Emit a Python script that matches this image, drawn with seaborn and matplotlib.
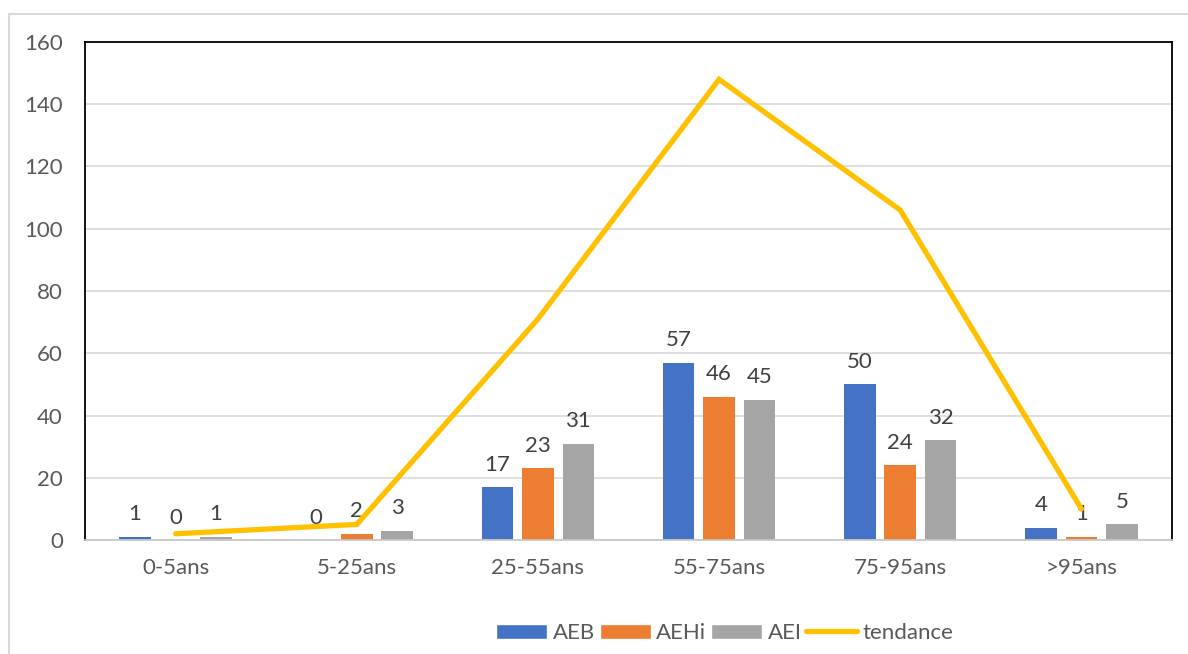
import numpy as np
import pandas as pd
import seaborn as sns
import matplotlib.pyplot as plt
from matplotlib.patches import Rectangle
from matplotlib.lines import Line2D

# values
categories = ["0-5ans", "5-25ans", "25-55ans", "55-75ans", "75-95ans", ">95ans"]
aeb = [1, 0, 17, 57, 50, 4]
aehi = [0, 2, 23, 46, 24, 1]
aei = [1, 3, 31, 45, 32, 5]
tendance = [2, 5, 71, 148, 106, 10]
series = ["AEB", "AEHi", "AEI"]
colors = ["#4472C4", "#ED7D31", "#A5A5A5"]
line_color = "#FFC000"
fs = 16

sns.set_style("white")
plt.rcParams["font.family"] = ["Lato", "DejaVu Sans"]

# long-form table for seaborn
df = pd.DataFrame({
    "age": categories * 3,
    "serie": [s for s in series for _ in categories],
    "n": aeb + aehi + aei,
})

fig = plt.figure(figsize=(11.88, 6.54), dpi=100)
ax = fig.add_axes([85 / 1188, 1 - 540 / 654, (1172 - 85) / 1188, (540 - 42) / 654])

sns.barplot(data=df, x="age", y="n", hue="serie", order=categories,
            hue_order=series, palette=colors, width=0.67, gap=0.22,
            saturation=1, linewidth=0, ax=ax, legend=False, zorder=2)

for cont in ax.containers:
    ax.bar_label(cont, padding=9, fontsize=fs, color="#404040")

sns.lineplot(x=np.arange(len(categories)), y=tendance, color=line_color,
             linewidth=3.8, ax=ax, zorder=3, solid_capstyle="round",
             solid_joinstyle="miter")

ax.set_ylim(0, 160)
ax.set_xlim(-0.5, len(categories) - 0.5)
ax.set_yticks(range(0, 161, 20))
ax.set_xlabel("")
ax.set_ylabel("")
ax.grid(axis="y", color="#d9d9d9", linewidth=1.2, zorder=0)
ax.set_axisbelow(True)
ax.tick_params(axis="y", length=0, pad=16, labelsize=fs, labelcolor="#595959")
ax.tick_params(axis="x", length=0, pad=13, labelsize=fs, labelcolor="#595959")

for side in ["left", "top", "right"]:
    ax.spines[side].set_color("black")
    ax.spines[side].set_linewidth(1.3)
ax.spines["bottom"].set_color("#c8c8c8")
ax.spines["bottom"].set_linewidth(1.3)

# legend below the plot
handles = [Rectangle((0, 0), 1, 1, facecolor=c) for c in colors]
handles.append(Line2D([0], [0], color=line_color, linewidth=3.8, solid_capstyle="round"))
fig.legend(handles, series + ["tendance"], loc="center",
           bbox_to_anchor=(725 / 1188, 21 / 654), ncol=4, frameon=False,
           fontsize=fs, handlelength=2.3, handleheight=0.65,
           handletextpad=0.25, columnspacing=0.2, labelcolor="#595959")

# light chart-area border
fig.patches.append(Rectangle((8.5 / 1188, -0.1), 1.2, 1.1 - 13.5 / 654,
                             transform=fig.transFigure, fill=False,
                             edgecolor="#d9d9d9", linewidth=1.5))

fig.savefig("out.png", dpi=100)
